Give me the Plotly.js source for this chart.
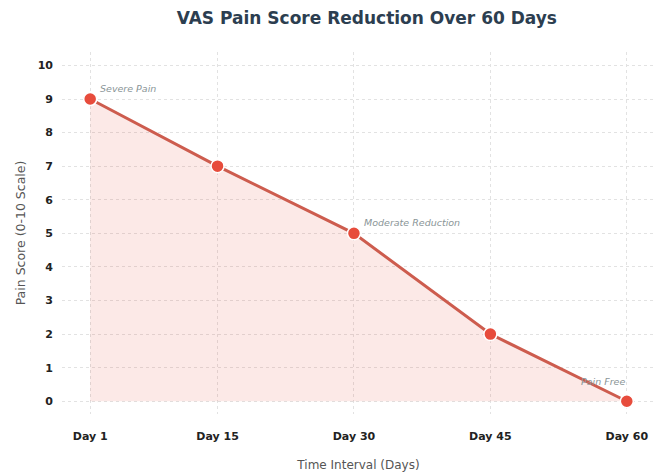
<!DOCTYPE html>
<html>
<head>
<meta charset="utf-8">
<script src="https://cdn.plot.ly/plotly-3.0.1.min.js"></script>
<style>html,body{margin:0;padding:0;background:#fff;}#chart{width:661px;height:474px;}</style>
</head>
<body>
<div id="chart"></div>
<script>
const days = [1, 15, 30, 45, 60];
const tickLabels = ["Day 1", "Day 15", "Day 30", "Day 45", "Day 60"];
const painScores = [9, 7, 5, 2, 0];
const noteDays = [1, 30, 60];
const noteScores = [9, 5, 0];
const noteTexts = ["Severe Pain", "Moderate Reduction", "Pain Free"];

const trace = {
  x: days, y: painScores, type: "scatter", mode: "lines+markers",
  fill: "tozeroy", fillcolor: "rgba(231,76,60,0.12)",
  line: {color: "#cd5c4e", width: 3},
  marker: {color: "#e74c3c", size: 13, line: {color: "#ffffff", width: 1.5}},
  hoverinfo: "skip"
};

const noteFont = {family: "DejaVu Sans, sans-serif", size: 9.5, color: "#8a9597", style: "italic"};
const annotations = noteTexts.map((t, i) => ({
  x: noteDays[i], y: noteScores[i], text: t, showarrow: false,
  xanchor: i === 2 ? "right" : "left", yanchor: "bottom",
  xshift: i === 2 ? 0 : 8, yshift: i === 2 ? 12 : 3, font: noteFont
}));

const layout = {
  width: 661, height: 474,
  margin: {l: 62, r: 6, t: 52, b: 60},
  paper_bgcolor: "#ffffff", plot_bgcolor: "#ffffff",
  showlegend: false,
  title: {text: "<b>VAS Pain Score Reduction Over 60 Days</b>", x: 0.555, xanchor: "center", y: 0.962, yanchor: "middle",
          font: {family: "DejaVu Sans, sans-serif", size: 17, color: "#2c3e50"}},
  xaxis: {
    range: [-2.1, 63.1], tickmode: "array", tickvals: days, ticktext: tickLabels,
    showgrid: true, gridcolor: "#e2e2e2", griddash: "3px,3px", gridwidth: 1,
    zeroline: false, showline: false, ticks: "", ticklen: 0, ticklabelstandoff: 14,
    tickfont: {family: "DejaVu Sans, sans-serif", size: 11, color: "#222", weight: "bold"},
    title: {text: "Time Interval (Days)", standoff: 18, font: {family: "DejaVu Sans, sans-serif", size: 12, color: "#555"}}
  },
  yaxis: {
    range: [-0.38, 10.4], tickmode: "array", tickvals: [0,1,2,3,4,5,6,7,8,9,10],
    showgrid: true, gridcolor: "#e2e2e2", griddash: "3px,3px", gridwidth: 1,
    zeroline: false, showline: false, ticks: "", ticklabelstandoff: 8,
    tickfont: {family: "DejaVu Sans, sans-serif", size: 11, color: "#222", weight: "bold"},
    title: {text: "Pain Score (0-10 Scale)", standoff: 9, font: {family: "DejaVu Sans, sans-serif", size: 12.5, color: "#555"}}
  },
  annotations: annotations
};

Plotly.newPlot("chart", [trace], layout, {displayModeBar: false, staticPlot: true});
</script>
</body>
</html>
